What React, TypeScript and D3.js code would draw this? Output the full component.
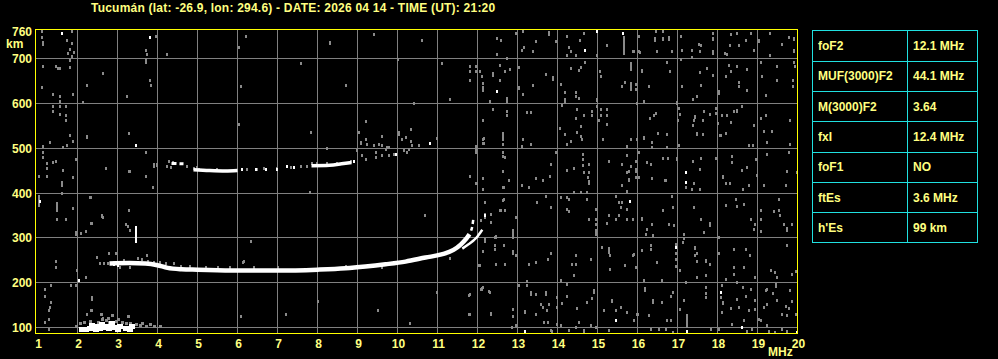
import React from "react";
import * as d3 from "d3";

const TITLE = "Tucumán (lat: -26.9, lon: 294.6) - DATE: 2026 04 14 - TIME (UT): 21:20";
const freqTicks = [1, 2, 3, 4, 5, 6, 7, 8, 9, 10, 11, 12, 13, 14, 15, 16, 17, 18, 19, 20];
const heightTicks = [100, 200, 300, 400, 500, 600, 700];
const heightTop = 760;
const paramNames = ["foF2", "MUF(3000)F2", "M(3000)F2", "fxI", "foF1", "ftEs", "h'Es"];
const paramValues = ["12.1 MHz", "44.1 MHz", "3.64", "12.4 MHz", "NO", "3.6 MHz", "99 km"];

// F2 ordinary trace [MHz, km]
const traceF2o: [number, number][] = [
  [2.8, 243], [3.3, 244], [3.7, 243], [4.0, 239], [4.25, 233], [4.6, 230], [5, 229], [6, 227], [7, 227],
  [8, 229], [8.7, 232], [9.2, 236], [9.7, 241], [10.2, 247], [10.7, 256], [11.1, 263], [11.4, 273],
  [11.58, 285], [11.72, 298], [11.8, 308],
];
// upper, broken end of the ordinary trace
const traceF2oTop: [number, number][] = [[11.84, 316], [11.87, 326], [11.89, 338], [11.9, 345]];
// F2 extraordinary trace
const traceF2x: [number, number][] = [
  [11.62, 276], [11.75, 284], [11.9, 294], [12.0, 303], [12.08, 313], [12.12, 318],
];
// second hop pieces
const hop2a: [number, number][] = [[4.9, 452], [5.3, 450], [5.7, 449], [6.0, 450]];
const hop2b: [number, number][] = [[7.85, 461], [8.3, 462], [8.6, 465], [8.85, 468]];
const hop2c: [number, number][] = [[4.35, 466], [4.65, 465]];

// Es echoes
const esWhite: [number, number][] = [
  [2.1, 97], [2.2, 97], [2.3, 99], [2.4, 101], [2.45, 97], [2.5, 104], [2.55, 99], [2.65, 101], [2.75, 104],
  [2.8, 98], [2.9, 101], [3.0, 97], [3.05, 103], [3.2, 100], [3.3, 97], [3.35, 104], [2.35, 106], [2.6, 108], [2.85, 109],
];
const esGray: [number, number][] = [
  [1.95, 104], [2.05, 110], [2.15, 113], [2.3, 115], [2.5, 113], [2.7, 117], [2.8, 113], [2.95, 115], [3.1, 112],
  [3.2, 109], [3.3, 110], [3.45, 108], [3.55, 106], [3.6, 110], [3.7, 104], [3.8, 107], [3.9, 103], [4.05, 104],
  [2.6, 120], [2.75, 122], [3.0, 118], [3.25, 125], [2.87, 127], [2.58, 131], [2.33, 138],
];

// white isolated echoes
const whiteDots: [number, number][] = [
  [1.6, 757], [3.8, 748], [3.45, 508], [1.05, 382], [2.03, 207], [7.24, 461], [6.46, 453], [6.98, 453],
  [7.4, 457], [8.91, 471], [9.95, 487], [10.81, 511], [12.2, 351], [15.81, 383], [15.45, 117], [13.18, 93],
  [14.99, 761], [15.64, 757], [14.7, 720], [12.5, 628], [17.2, 424], [16.95, 279], [18.09, 180], [17.24, 93],
  [18.6, 101], [19.98, 91], [17.2, 446], [12.2, 350], [3.0, 240], [3.1, 243], [2.9, 241], [6.1, 453], [6.7, 454],
];

// vertical streaks [MHz, km low, km high]
const streaks: [number, number, number][] = [
  [3.45, 290, 327], [1.14, 728, 740], [1.03, 368, 395], [1.49, 357, 380], [1.89, 361, 368], [1.95, 305, 316],
  [1.34, 189, 196], [2.64, 664, 670], [1.1, 632, 638], [2.14, 600, 606], [3.28, 530, 536], [9.08, 505, 515],
  [13.79, 751, 762], [15.66, 708, 750], [12.39, 658, 670], [13.03, 628, 638], [13.89, 651, 662], [14.2, 621, 628],
  [14.2, 599, 612], [14.99, 604, 612], [11.95, 487, 506], [15.85, 673, 692], [14.78, 417, 428], [15.78, 424, 433],
  [15.6, 413, 420], [12.2, 342, 356], [14.95, 305, 320], [12.89, 298, 320], [12.43, 298, 305], [12.89, 261, 272],
  [15.28, 264, 279], [15.32, 257, 264], [13.34, 171, 182], [13.7, 171, 182], [14.12, 149, 156], [14.91, 175, 186],
  [15.37, 156, 164], [13.18, 130, 138], [12.89, 120, 127], [12.33, 127, 134], [16.43, 736, 748], [16.64, 740, 748],
  [16.78, 740, 751], [17.89, 740, 748], [18.33, 751, 757], [19.03, 736, 744], [19.91, 740, 748], [17.89, 707, 718],
  [19.91, 714, 722], [16.12, 669, 677], [15.83, 629, 647], [17.89, 661, 666], [18.74, 673, 678], [18.03, 618, 629],
  [19.2, 616, 621], [16.99, 597, 606], [17.45, 565, 573], [18.49, 579, 588], [16.16, 517, 527], [16.74, 528, 534],
  [17.49, 528, 536], [17.64, 528, 534], [16.99, 472, 480], [18.35, 465, 472], [18.74, 454, 460], [18.97, 472, 478],
  [18.99, 435, 442], [16.69, 425, 431], [19.7, 413, 420], [17.8, 323, 335], [16.1, 336, 346], [19.74, 313, 325],
  [17.43, 272, 281], [17.7, 245, 253], [19.47, 188, 199], [18.14, 150, 158], [16.18, 179, 191], [17.24, 100, 131],
  [12.64, 522, 532], [11.95, 493, 503], [12.45, 296, 306], [12.12, 183, 191], [8.3, 730, 740],
];

// gray noise echoes [MHz, km]
const noiseWest: [number, number][] = [
  [1.1, 761], [1.1, 748], [1.85, 761], [1.74, 742], [1.85, 735], [1.8, 722], [1.75, 712], [1.9, 715], [1.85, 705],
  [1.8, 697], [1.14, 684], [1.45, 683], [1.5, 678], [1.55, 678], [1.82, 681], [2.24, 642], [3.24, 616], [1.39, 620],
  [1.55, 617], [1.55, 606], [1.89, 620], [1.39, 595], [1.55, 595], [1.7, 594], [1.39, 584], [1.55, 577], [1.7, 575],
  [1.7, 562], [2.24, 527], [1.81, 530], [1.89, 517], [1.74, 508], [1.64, 502], [1.3, 513], [1.14, 504], [3.7, 491],
  [1.14, 491], [1.14, 480], [1.24, 467], [1.39, 470], [1.45, 472], [1.24, 455], [1.64, 452], [1.95, 476], [1.89, 435],
  [1.03, 437], [1.24, 437], [2.7, 455], [3.3, 450], [3.7, 437], [1.6, 425], [3.95, 751], [3.7, 720], [3.74, 710],
  [3.7, 699], [3.7, 692], [4.24, 710], [3.8, 651], [3.84, 641], [6.2, 751], [6.03, 725], [6.09, 638], [6.03, 553],
  [1.6, 417], [1.6, 400], [3.89, 413], [2.3, 391], [2.33, 391], [1.49, 341], [1.7, 341], [2.6, 350], [2.64, 346],
  [2.35, 333], [3.29, 363], [3.2, 331], [3.26, 327], [3.3, 318], [2.09, 310], [2.2, 315], [6.34, 292], [2.8, 266],
  [2.95, 266], [2.49, 258], [3.74, 261], [6.16, 248], [1.45, 248], [1.45, 234], [1.99, 229], [2.2, 212], [1.84, 194],
  [1.95, 194], [1.2, 186], [1.2, 171], [1.34, 156], [1.31, 145], [1.28, 138], [1.28, 119], [1.2, 112], [1.28, 97],
  [2.35, 164], [2.35, 168], [2.59, 129], [2.64, 122], [2.24, 129], [6.09, 125], [3.28, 533], [2.24, 526],
  [3.28, 450], [3.91, 465], [3.99, 465], [4.28, 472], [3.7, 437], [2.62, 348], [2.34, 333], [2.2, 316], [1.95, 313],
  [6.14, 247], [7.81, 403], [8.24, 500], [7.84, 536], [9.03, 536], [10.7, 350],
];
const noiseTraces: [number, number][] = [
  [4.39, 470], [4.24, 460], [4.34, 457], [3.98, 463], [3.91, 460], [4.99, 457], [5.04, 453], [4.74, 461], [4.91, 456],
  [5.49, 454], [6.12, 454], [6.24, 454], [6.49, 454], [6.66, 455], [6.99, 455], [7.33, 459], [7.58, 461], [7.74, 461],
  [7.87, 467], [7.99, 466], [8.24, 466], [8.49, 467], [8.83, 472], [9.2, 521], [9.24, 510], [9.41, 506], [9.45, 491],
  [9.53, 510], [9.62, 528], [9.62, 506], [9.7, 499], [9.78, 502], [9.91, 487], [10.03, 536], [10.12, 521], [10.2, 525],
  [10.33, 517], [10.37, 506], [10.53, 506], [10.16, 495], [10.28, 499], [10.24, 491], [8.91, 472], [8.99, 495],
  [9.12, 484], [9.2, 476], [9.45, 480], [9.62, 484], [9.78, 484], [10.34, 543], [10.03, 532], [9.74, 502], [10.99, 523],
  [2.75, 244], [2.9, 247], [3.05, 236], [3.15, 250], [3.3, 236], [3.6, 252], [3.75, 248], [3.9, 247], [4.05, 246],
  [4.2, 244], [4.4, 243], [4.6, 237], [4.8, 237], [5.2, 235], [5.5, 234], [5.8, 235], [6.4, 235], [7.0, 235],
  [2.65, 244], [2.55, 243], [3.5, 256], [8.7, 238], [9.6, 234], [11.3, 256],
];
const noiseCenter: [number, number][] = [
  [12.95, 757], [13.14, 761], [13.45, 740], [13.95, 740], [14.24, 751], [14.55, 742], [14.66, 757], [15.24, 729],
  [15.89, 716], [16.03, 716], [12.49, 745], [12.59, 742], [12.49, 710], [12.74, 702], [13.1, 720], [13.16, 725],
  [13.39, 716], [14.28, 725], [14.33, 716], [14.45, 707], [14.24, 708], [14.99, 707], [11.8, 683], [11.95, 683],
  [11.8, 673], [11.95, 673], [12.05, 673], [11.8, 651], [12.56, 686], [12.7, 673], [12.81, 677], [13.03, 680],
  [12.12, 661], [12.56, 651], [12.14, 646], [12.14, 636], [12.14, 630], [12.74, 611], [12.74, 606], [12.31, 606],
  [13.14, 621], [13.39, 641], [13.7, 666], [14.09, 644], [14.45, 625], [14.45, 616], [14.54, 612], [14.1, 597],
  [14.58, 681], [14.53, 675], [14.7, 692], [14.35, 678], [15.05, 673], [15.09, 661], [15.6, 638], [15.7, 647],
  [15.83, 644], [15.83, 632], [15.95, 632], [15.99, 601], [12.39, 588], [12.74, 584], [12.74, 574], [13.24, 580],
  [13.34, 580], [12.14, 562], [12.64, 534], [12.64, 521], [12.64, 510], [12.14, 521], [12.14, 512], [13.14, 521],
  [13.1, 505], [13.34, 510], [12.64, 491], [12.64, 482], [12.64, 450], [12.14, 433], [11.8, 437], [14.05, 545],
  [14.2, 532], [14.49, 536], [14.59, 528], [14.62, 521], [14.34, 517], [14.24, 510], [14.49, 588], [14.45, 567],
  [14.66, 573], [14.87, 584], [14.87, 574], [15.08, 588], [15.08, 574], [15.03, 562], [15.24, 588], [15.24, 573],
  [15.24, 554], [14.99, 595], [15.14, 521], [14.59, 549], [13.95, 491], [13.84, 465], [14.24, 452], [14.41, 455],
  [14.64, 487], [14.64, 476], [14.78, 465], [14.64, 463], [14.66, 446], [14.78, 446], [14.76, 435], [15.28, 472],
  [15.62, 465], [15.74, 484], [15.74, 446], [15.78, 448], [15.83, 461], [15.95, 472], [15.95, 450], [15.74, 504],
  [15.85, 521], [11.95, 423], [12.14, 408], [12.64, 413], [12.78, 428], [13.1, 417], [13.28, 413],
  [13.45, 433], [13.64, 428], [13.81, 438], [14.41, 402], [14.58, 402], [14.74, 402], [14.24, 391], [14.28, 387],
  [14.74, 387], [14.28, 359], [14.24, 365], [14.08, 391], [13.84, 369], [13.7, 394], [13.49, 381], [12.95, 346],
  [12.64, 385], [12.56, 363], [12.2, 381], [12.34, 353], [12.34, 335], [14.95, 365], [14.95, 342], [14.95, 331],
  [14.78, 342], [15.28, 350], [15.24, 333], [15.45, 342], [15.53, 350], [15.74, 365], [15.74, 342], [15.89, 342],
  [15.45, 394], [15.53, 381], [15.62, 381], [15.58, 369], [15.74, 405], [12.43, 283], [12.43, 274], [12.2, 294],
  [12.14, 270], [12.95, 261], [12.45, 242], [12.03, 240], [13.28, 242], [13.45, 247], [13.84, 267], [13.76, 252],
  [14.45, 261], [14.37, 242], [14.45, 242], [14.41, 216], [14.84, 252], [15.12, 279], [15.91, 264], [15.7, 240],
  [15.3, 231], [14.09, 207], [12.08, 186], [12.14, 190], [12.31, 180], [11.78, 173], [13.03, 195], [13.24, 203],
  [13.24, 195], [13.45, 175], [13.58, 153], [13.78, 153], [12.89, 142], [13.64, 145], [13.74, 138], [13.98, 145],
  [13.99, 168], [14.24, 197], [14.23, 171], [14.87, 165], [14.74, 156], [14.49, 143], [14.53, 112], [14.84, 106],
  [15.16, 138], [15.45, 138], [15.58, 145], [15.74, 134], [15.99, 130], [15.91, 116], [13.45, 130], [13.66, 112],
  [13.76, 112], [13.99, 108], [14.08, 106], [14.45, 101], [14.66, 93], [14.95, 101], [11.78, 130], [12.87, 101],
  [12.95, 106], [13.83, 95], [13.87, 93], [14.28, 95], [14.66, 95], [15.28, 95], [12.16, 523], [12.16, 511],
  [12.7, 480], [11.81, 437], [11.98, 422], [12.66, 413], [12.66, 387], [12.7, 361], [12.08, 339], [12.58, 361],
  [12.66, 283], [12.2, 298], [12.7, 242], [12.06, 240], [12.28, 181], [11.81, 174], [11.81, 130], [12.33, 130],
];
const noiseEast: [number, number][] = [
  [16.03, 751], [16.45, 761], [16.64, 761], [17.09, 751], [17.89, 757], [18.49, 757], [18.7, 742], [18.84, 757],
  [19.31, 757], [19.78, 748], [17.58, 730], [17.53, 733], [16.87, 716], [16.49, 716], [15.91, 716], [16.05, 714],
  [17.1, 720], [17.35, 720], [17.56, 716], [18.24, 710], [18.18, 713], [18.31, 729], [18.53, 729], [18.92, 720],
  [19.31, 707], [19.62, 733], [17.09, 698], [17.35, 703], [16.74, 692], [16.81, 673], [15.95, 644], [16.28, 638],
  [17.12, 638], [17.58, 641], [17.74, 678], [17.56, 670], [18.28, 686], [18.49, 683], [18.33, 673], [18.22, 661],
  [18.53, 647], [18.53, 638], [18.74, 629], [19.09, 692], [19.1, 661], [19.49, 683], [19.49, 651], [19.89, 651],
  [19.89, 638], [19.91, 692], [19.93, 683], [17.49, 616], [17.39, 609], [16.16, 606], [17.03, 589], [17.05, 577],
  [17.02, 562], [16.45, 579], [16.41, 574], [16.31, 567], [17.41, 562], [17.39, 552], [17.64, 562], [17.66, 584],
  [17.81, 577], [17.95, 579], [17.95, 589], [18.01, 556], [18.1, 574], [18.24, 574], [18.33, 558], [18.07, 530],
  [18.2, 534], [18.41, 584], [18.62, 595], [18.91, 552], [18.78, 507], [18.89, 507], [19.16, 539], [19.35, 539],
  [19.24, 513], [19.2, 574], [19.09, 567], [19.81, 562], [19.81, 510], [15.99, 521], [16.35, 513], [16.51, 534],
  [18.09, 530], [17.03, 507], [16.73, 502], [16.37, 502], [16.03, 491], [15.95, 472], [15.95, 454], [16.24, 469],
  [16.33, 465], [16.64, 478], [16.76, 478], [17.39, 472], [17.58, 478], [17.95, 478], [18.35, 482], [18.62, 452],
  [19.24, 487], [19.78, 491], [19.74, 450], [15.95, 435], [16.37, 433], [16.7, 430], [17.56, 454], [18.14, 439],
  [19.98, 446], [16.03, 435], [16.35, 433], [17.4, 423], [17.2, 413], [17.35, 408], [17.56, 408], [18.15, 435],
  [18.2, 423], [18.3, 423], [18.65, 408], [18.78, 417], [19.16, 417], [16.85, 394], [16.65, 363], [16.9, 368],
  [17.4, 368], [17.58, 341], [17.66, 314], [17.15, 309], [17.16, 300], [16.91, 329], [16.78, 331], [16.35, 331],
  [16.24, 320], [16.2, 309], [16.4, 307], [15.89, 342], [18.2, 374], [18.45, 387], [18.48, 372], [18.66, 376],
  [18.83, 342], [18.95, 331], [18.9, 320], [19.09, 361], [19.09, 342], [19.09, 316], [19.4, 359], [19.54, 363],
  [19.56, 351], [19.66, 331], [19.85, 331], [19.53, 387], [18.03, 302], [16.34, 283], [16.34, 276], [16.12, 272],
  [15.89, 262], [15.97, 235], [16.49, 247], [16.95, 287], [16.95, 267], [16.95, 252], [16.95, 238], [17.06, 229],
  [17.14, 290], [17.45, 261], [17.49, 266], [17.49, 249], [17.8, 242], [17.7, 218], [17.49, 212], [17.22, 201],
  [16.6, 205], [16.16, 207], [18.03, 266], [18.4, 276], [18.7, 276], [18.81, 261], [18.41, 235], [18.66, 235],
  [18.4, 220], [18.2, 209], [18.49, 201], [18.95, 212], [19.33, 229], [19.45, 223], [19.49, 212], [19.74, 283],
  [19.85, 220], [19.95, 227], [18.1, 194], [17.7, 190], [17.7, 177], [17.7, 168], [18.09, 168], [18.1, 134],
  [18.33, 143], [18.49, 164], [18.53, 145], [18.64, 190], [18.7, 171], [18.83, 186], [18.78, 138], [18.95, 162],
  [18.95, 142], [19.24, 186], [19.2, 183], [19.24, 153], [19.16, 145], [19.08, 116], [19.03, 118], [19.24, 106],
  [19.49, 162], [19.39, 177], [19.7, 148], [19.78, 143], [19.82, 183], [19.87, 160], [19.62, 131], [19.74, 127],
  [19.95, 131], [16.89, 179], [16.84, 171], [16.39, 162], [16.39, 157], [16.6, 157], [17.06, 142], [17.16, 162],
  [16.74, 116], [16.84, 116], [16.28, 127], [16.01, 131], [16.53, 96], [16.34, 96], [16.7, 96], [16.89, 90],
  [17.83, 96], [18.03, 96], [18.37, 108], [18.66, 116], [18.74, 93], [18.87, 96], [19.03, 119], [19.28, 93],
  [19.45, 90], [19.62, 96], [19.74, 93],
  [10.6, 742], [11.1, 690], [9.4, 755], [10.0, 700], [9.2, 560], [10.4, 600], [8.7, 640], [7.6, 690], [11.3, 610],
  [8.0, 160], [9.5, 140], [10.3, 110], [11.0, 180], [7.2, 130],
];

const FONT = "'Liberation Sans', Arial, sans-serif";
const YEL = "#ffff80";

export default function App() {
  const W = 998, H = 359;
  const x = d3.scaleLinear().domain([1, 20]).range([37.5, 797.5]);
  const y = d3.scaleLinear().domain([100, 700]).range([327.5, 58.5]);
  const left = x(1) - 2, right = x(20), top = 29.5, bottom = 333.5;
  const line = d3.line<[number, number]>().x(d => x(d[0])).y(d => y(d[1])).curve(d3.curveMonotoneX);
  const allNoise = [...noiseWest, ...noiseTraces, ...noiseCenter, ...noiseEast];
  const inside = (h: number) => y(h) > top && y(h) < bottom;

  const tableX0 = 812.5, tableX1 = 977.5, tableDiv = 907.5, tableY0 = 30.5, tableY1 = 242.5;
  const rowY = d3.scaleLinear().domain([0, paramNames.length]).range([tableY0, tableY1]);

  return (
    <svg width={W} height={H} style={{ position: "absolute", left: 0, top: 0, display: "block" }}
      fontFamily={FONT} fontWeight="bold">
      <rect width={W} height={H} fill="#000" />
      <text x={91} y={12} fontSize={12} fill={YEL} letterSpacing={0.22}>{TITLE}</text>

      {/* grid */}
      <g stroke="#808080" strokeWidth={1} shapeRendering="crispEdges">
        {freqTicks.filter(f => f > 1 && f < 20).map(f => (
          <line key={"v" + f} x1={x(f)} x2={x(f)} y1={top} y2={bottom} />
        ))}
        {heightTicks.map(h => (
          <line key={"h" + h} x1={left} x2={right} y1={y(h)} y2={y(h)} />
        ))}
      </g>

      {/* noise */}
      <g fill="#8a8a8a" shapeRendering="crispEdges">
        {allNoise.filter(d => inside(d[1])).map((d, i) => (
          <rect key={"n" + i} x={Math.round(x(d[0])) - 1} y={Math.round(y(d[1])) - 1} width={2} height={3} />
        ))}
        {esGray.map((d, i) => (
          <rect key={"eg" + i} x={Math.round(x(d[0])) - 1} y={Math.round(y(d[1])) - 1} width={3} height={3} />
        ))}
        {streaks.map((d, i) => (
          <rect key={"s" + i} x={Math.round(x(d[0])) - 1} y={Math.round(y(d[2]))} width={2}
            height={Math.max(3, Math.round(y(d[1]) - y(d[2])))} />
        ))}
      </g>

      {/* traces */}
      <g fill="none" stroke="#fff" strokeLinecap="butt">
        <path d={line(traceF2o) || ""} strokeWidth={4.5} />
        <path d={line(traceF2oTop) || ""} strokeWidth={2.5} strokeDasharray="4 3" />
        <path d={line(traceF2x) || ""} strokeWidth={2.5} />
        <path d={line(hop2a) || ""} strokeWidth={3.5} />
        <path d={line(hop2b) || ""} strokeWidth={3.5} />
        <path d={line(hop2c) || ""} strokeWidth={3} strokeDasharray="5 3" />
      </g>
      <g fill="#fff" shapeRendering="crispEdges">
        {esWhite.map((d, i) => (
          <rect key={"ew" + i} x={Math.round(x(d[0])) - 3} y={Math.round(y(d[1])) - 2} width={6} height={5} />
        ))}
        {whiteDots.filter(d => inside(d[1])).map((d, i) => (
          <rect key={"w" + i} x={Math.round(x(d[0])) - 1} y={Math.round(y(d[1])) - 1} width={2} height={3} />
        ))}
        {streaks.filter(d => d[0] === 3.45).map((d, i) => (
          <rect key={"ws" + i} x={Math.round(x(d[0])) - 1} y={Math.round(y(d[2]))} width={2}
            height={Math.round(y(d[1]) - y(d[2]))} />
        ))}
      </g>

      {/* frame */}
      <rect x={left} y={top} width={right - left} height={bottom - top} fill="none" stroke="#ffff00"
        strokeWidth={1.5} shapeRendering="crispEdges" />

      {/* axis labels */}
      <g fill={YEL} fontSize={12}>
        <text x={32} y={y(heightTop) + 4.5} textAnchor="end">{heightTop}</text>
        <text x={6} y={48}>km</text>
        {heightTicks.map(h => (
          <text key={"hl" + h} x={32} y={y(h) + 4.5} textAnchor="end">{h}</text>
        ))}
        {freqTicks.map(f => (
          <text key={"fl" + f} x={x(f) + 1} y={348} textAnchor="middle">{f}</text>
        ))}
        <text x={768} y={356}>MHz</text>
      </g>

      {/* parameter table */}
      <g stroke="#20e0e0" strokeWidth={1} fill="none" shapeRendering="crispEdges">
        <rect x={tableX0} y={tableY0} width={tableX1 - tableX0} height={tableY1 - tableY0} />
        <line x1={tableDiv} x2={tableDiv} y1={tableY0} y2={tableY1} />
        {paramNames.slice(1).map((_, i) => (
          <line key={"r" + i} x1={tableX0} x2={tableX1} y1={Math.round(rowY(i + 1)) + 0.5} y2={Math.round(rowY(i + 1)) + 0.5} />
        ))}
      </g>
      <g fill={YEL} fontSize={12}>
        {paramNames.map((p, i) => (
          <text key={"p" + i} x={818} y={(rowY(i) + rowY(i + 1)) / 2 + 4.5}>{p}</text>
        ))}
        {paramValues.map((p, i) => (
          <text key={"v" + i} x={913} y={(rowY(i) + rowY(i + 1)) / 2 + 4.5}>{p}</text>
        ))}
      </g>
    </svg>
  );
}
